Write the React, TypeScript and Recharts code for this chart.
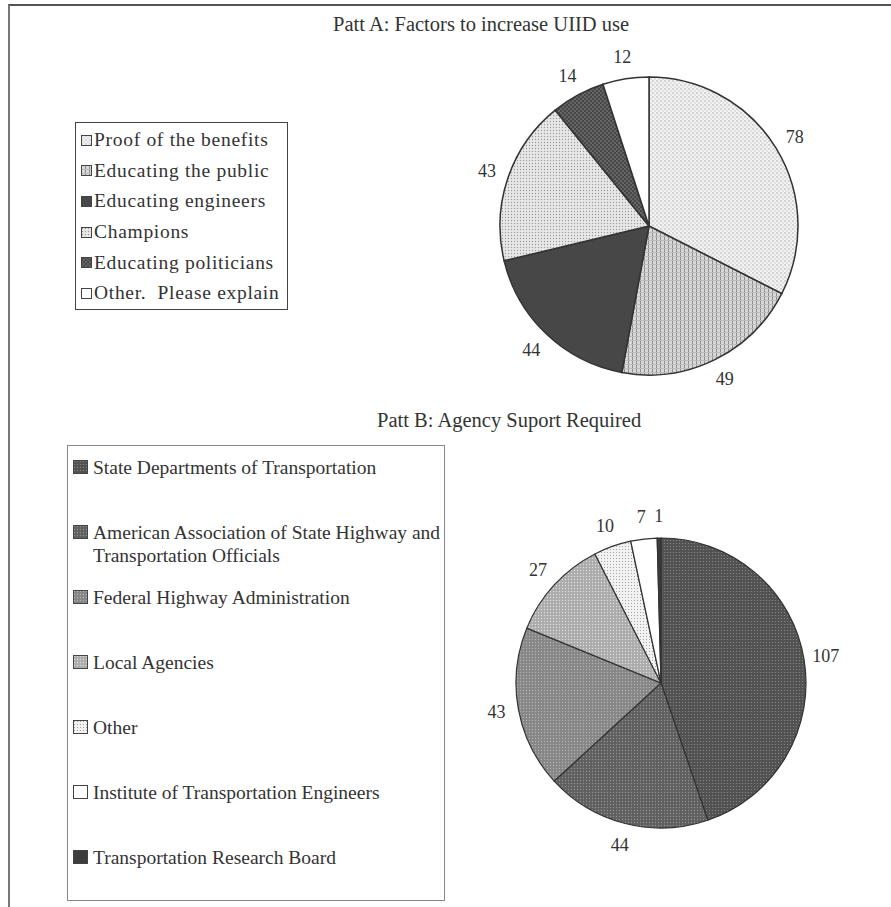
import { PieChart, Pie, Cell } from 'recharts';

const titleA = 'Patt A: Factors to increase UIID use';
const labelsA = [
  'Proof of the benefits',
  'Educating the public',
  'Educating engineers',
  'Champions',
  'Educating politicians',
  'Other.  Please explain',
];
const valuesA = [78, 49, 44, 43, 14, 12];

const titleB = 'Patt B: Agency Suport Required';
const labelsB = [
  'State Departments of Transportation',
  'American Association of State Highway and Transportation Officials',
  'Federal Highway Administration',
  'Local Agencies',
  'Other',
  'Institute of Transportation Engineers',
  'Transportation Research Board',
];
const valuesB = [107, 44, 43, 27, 10, 7, 1];

const fillsA = ['url(#pa0)', 'url(#pa1)', '#474747', 'url(#pa3)', 'url(#pa4)', '#ffffff'];
const fillsB = ['url(#pb0)', 'url(#pb1)', 'url(#pb2)', 'url(#pb3)', 'url(#pb4)', '#ffffff', '#3c3c3c'];

const dataA = labelsA.map((name, i) => ({ name, value: valuesA[i] }));
const dataB = labelsB.map((name, i) => ({ name, value: valuesB[i] }));

const RAD = Math.PI / 180;
const serif = '"Liberation Serif", "Times New Roman", serif';

function dotPattern(id: string, size: number, bg: string, dots: [number, number, string][], r: number) {
  return (
    <pattern id={id} key={id} width={size} height={size} patternUnits="userSpaceOnUse">
      <rect width={size} height={size} fill={bg} />
      {dots.map(([x, y, c], i) => (
        <circle key={i} cx={x} cy={y} r={r} fill={c} />
      ))}
    </pattern>
  );
}

const PatternsA = () => (
  <defs>
    {dotPattern('pa0', 4, '#f3f3f3', [[1, 1, '#9a9a9a'], [3, 3, '#bdbdbd']], 0.65)}
    <pattern id="pa1" width={4} height={4} patternUnits="userSpaceOnUse">
      <rect width={4} height={4} fill="#d8d8d8" />
      <rect width={1} height={4} fill="#8e8e8e" />
      <rect width={4} height={1} fill="#bcbcbc" />
    </pattern>
    {dotPattern('pa3', 3, '#e8e8e8', [[1.5, 1.5, '#9c9c9c']], 0.7)}
    {dotPattern('pa4', 4, '#474747', [[1, 1, '#8c8c8c'], [3, 3, '#8c8c8c']], 0.8)}
  </defs>
);

const PatternsB = () => (
  <defs>
    {dotPattern('pb0', 3, '#525252', [[1.5, 1.5, '#8e8e8e']], 0.6)}
    {dotPattern('pb1', 3, '#5f5f5f', [[1.5, 1.5, '#939393']], 0.7)}
    {dotPattern('pb2', 3, '#868686', [[1.5, 1.5, '#b4b4b4']], 0.7)}
    {dotPattern('pb3', 3, '#ababab', [[1.5, 1.5, '#dedede']], 0.7)}
    {dotPattern('pb4', 3, '#f2f2f2', [[1.5, 1.5, '#9a9a9a']], 0.55)}
  </defs>
);

const outsideLabel = (props: any) => {
  const { cx, cy, midAngle, outerRadius, value } = props;
  const r = outerRadius + 22;
  const x = cx + r * Math.cos(-midAngle * RAD);
  const y = cy + r * Math.sin(-midAngle * RAD);
  return (
    <text x={x} y={y} fill="#333" fontSize={18} fontFamily={serif} textAnchor="middle" dominantBaseline="central">
      {value}
    </text>
  );
};

function Swatch({ fill, w, h }: { fill: string; w: number; h: number }) {
  return (
    <svg width={w} height={h} style={{ display: 'block', flex: 'none' }}>
      <rect x={0.5} y={0.5} width={w - 1} height={h - 1} fill={fill} stroke="#444" strokeWidth={1} />
    </svg>
  );
}

export default function App() {
  return (
    <div style={{ position: 'absolute', left: 0, top: 0, width: 891, height: 907, background: '#fff', fontFamily: serif, color: '#333', overflow: 'hidden' }}>
      {/* frame */}
      <div style={{ position: 'absolute', left: 8, top: 4, width: 883, height: 903, borderTop: '2px solid #555', borderLeft: '2px solid #777' }} />

      <div style={{ position: 'absolute', left: 333, top: 14, fontSize: 20.5, lineHeight: '20.5px', whiteSpace: 'nowrap' }}>{titleA}</div>
      <div style={{ position: 'absolute', left: 377, top: 410, fontSize: 20.5, lineHeight: '20.5px', whiteSpace: 'nowrap' }}>{titleB}</div>

      <div style={{ position: 'absolute', left: 0, top: 0 }}>
        <PieChart width={891} height={410} margin={{ top: 0, right: 0, bottom: 0, left: 0 }}>
          <PatternsA />
          <Pie
            data={dataA}
            dataKey="value"
            nameKey="name"
            cx={649}
            cy={226}
            outerRadius={149}
            startAngle={90}
            endAngle={-270}
            stroke="#333"
            strokeWidth={1.5}
            label={outsideLabel}
            labelLine={false}
            isAnimationActive={false}
          >
            {dataA.map((d, i) => (
              <Cell key={d.name} fill={fillsA[i]} />
            ))}
          </Pie>
        </PieChart>
      </div>

      <div style={{ position: 'absolute', left: 0, top: 440 }}>
        <PieChart width={891} height={467} margin={{ top: 0, right: 0, bottom: 0, left: 0 }}>
          <PatternsB />
          <Pie
            data={dataB}
            dataKey="value"
            nameKey="name"
            cx={661}
            cy={243}
            outerRadius={145}
            startAngle={90}
            endAngle={-270}
            stroke="#333"
            strokeWidth={1.2}
            label={outsideLabel}
            labelLine={false}
            isAnimationActive={false}
          >
            {dataB.map((d, i) => (
              <Cell key={d.name} fill={fillsB[i]} />
            ))}
          </Pie>
        </PieChart>
      </div>

      {/* legend A */}
      <div style={{ position: 'absolute', left: 75, top: 122, width: 211, height: 184, border: '1.5px solid #444', paddingTop: 2, boxSizing: 'content-box' }}>
        {labelsA.map((l, i) => (
          <div key={l} style={{ display: 'flex', alignItems: 'center', height: 30.6, paddingLeft: 5, fontSize: 19.5, letterSpacing: 0.7, whiteSpace: 'pre' }}>
            <Swatch fill={fillsA[i]} w={11} h={11} />
            <span style={{ marginLeft: 2 }}>{l}</span>
          </div>
        ))}
      </div>

      {/* legend B */}
      <div style={{ position: 'absolute', left: 67, top: 445, width: 378, height: 456, border: '1.5px solid #888', paddingTop: 10, boxSizing: 'border-box' }}>
        {labelsB.map((l, i) => (
          <div key={l} style={{ display: 'flex', alignItems: 'flex-start', paddingLeft: 5, height: 65, fontSize: 19.5, lineHeight: '23px' }}>
            <div style={{ marginTop: 4 }}>
              <Swatch fill={fillsB[i]} w={15} h={14} />
            </div>
            <span style={{ marginLeft: 5, width: 354, flex: 'none' }}>{l}</span>
          </div>
        ))}
      </div>
    </div>
  );
}
